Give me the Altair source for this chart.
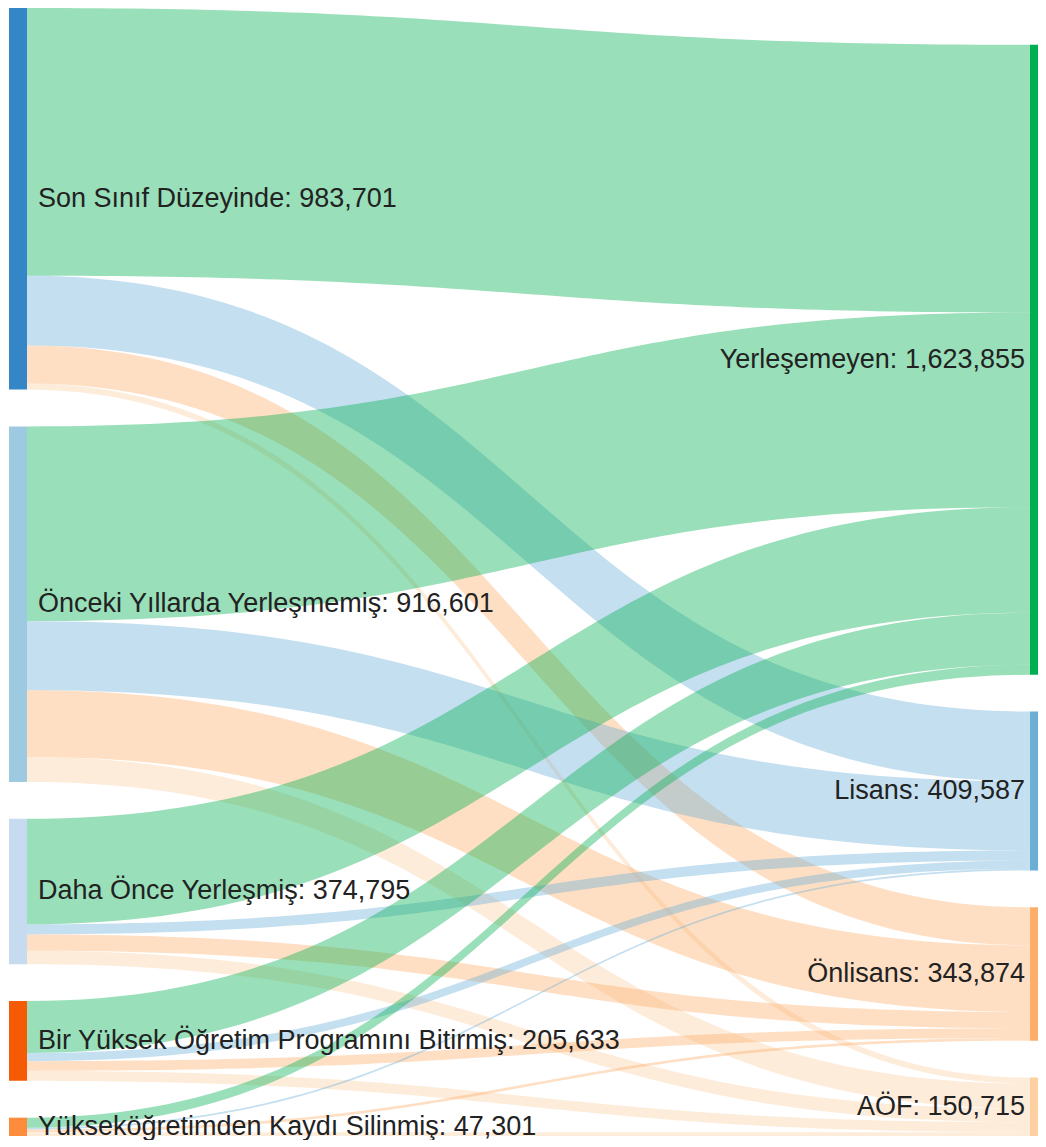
import altair as alt
import pandas as pd
import numpy as np

# ---------------- data ----------------
sources = [
    "Son Sınıf Düzeyinde",
    "Önceki Yıllarda Yerleşmemiş",
    "Daha Önce Yerleşmiş",
    "Bir Yüksek Öğretim Programını Bitirmiş",
    "Yükseköğretimden Kaydı Silinmiş",
]
source_totals = [983701, 916601, 374795, 205633, 47301]
targets = ["Yerleşemeyen", "Lisans", "Önlisans", "AÖF"]
target_totals = [1623855, 409587, 343874, 150715]

# flows from each source (same order as sources) to each target
to_yerlesemeyen = [690000, 502000, 272000, 134000, 25855]
to_lisans = [180000, 178000, 26000, 21000, 4587]
to_onlisans = [98000, 172000, 42000, 25000, 6874]
to_aof = [15701, 64601, 34795, 25633, 9985]

source_colors = ["#3486c6", "#9ecae1", "#c6dbef", "#f55a05", "#fd8d3c"]
target_colors = ["#00b050", "#6baed6", "#fdae6b", "#fdd0a2"]

# ---------------- layout ----------------
W, H = 1030, 1128
GAP = 95000
LX0, LX1 = 1, 19        # left node column
RX0, RX1 = 1022, 1030   # right node column
flows = [to_yerlesemeyen, to_lisans, to_onlisans, to_aof]  # [target][source]

htot = sum(source_totals) + GAP * (len(sources) - 1)
src_top = []
acc = 0
for v in source_totals:
    src_top.append(acc)
    acc += v + GAP
tgt_top = []
acc = htot - (sum(target_totals) + GAP * (len(targets) - 1))
for v in target_totals:
    tgt_top.append(acc)
    acc += v + GAP

rows = []
ts = np.linspace(0, 1, 80)
sx = 1.5 * ts * (1 - ts) + ts ** 3
sy = 3 * ts ** 2 - 2 * ts ** 3
src_off = list(src_top)
tgt_off = list(tgt_top)
for i in range(len(sources)):
    for j in range(len(targets)):
        v = flows[j][i]
        s0 = src_off[i]
        t0 = tgt_off[j]
        src_off[i] += v
        tgt_off[j] += v
        for a, b in zip(sx, sy):
            rows.append({
                "link": f"{i}-{j}",
                "x": LX1 + (RX0 - LX1) * a,
                "y": s0 + (t0 - s0) * b,
                "y2": s0 + v + (t0 - s0) * b,
                "color": target_colors[j],
            })
links_df = pd.DataFrame(rows)

nodes = []
for name, v, top, c in zip(sources, source_totals, src_top, source_colors):
    nodes.append({"x": LX0, "x2": LX1, "y": top, "y2": top + v, "color": c,
                  "label": f"{name}: {v:,}", "mid": top + v / 2, "side": "L"})
for name, v, top, c in zip(targets, target_totals, tgt_top, target_colors):
    nodes.append({"x": RX0, "x2": RX1, "y": top, "y2": top + v, "color": c,
                  "label": f"{name}: {v:,}", "mid": top + v / 2, "side": "R"})
nodes_df = pd.DataFrame(nodes)

xs = alt.Scale(domain=[0, W], nice=False, zero=False)
ys = alt.Scale(domain=[0, htot], reverse=True, nice=False, zero=False)

links = alt.Chart(links_df).mark_area(opacity=0.4, interpolate="linear").encode(
    x=alt.X("x:Q", scale=xs, axis=None),
    y=alt.Y("y:Q", scale=ys, axis=None, stack=False),
    y2="y2:Q",
    color=alt.Color("color:N", scale=None),
    detail="link:N",
)

rects = alt.Chart(nodes_df).mark_rect().encode(
    x=alt.X("x:Q", scale=xs, axis=None),
    x2="x2:Q",
    y=alt.Y("y:Q", scale=ys, axis=None),
    y2="y2:Q",
    color=alt.Color("color:N", scale=None),
)

left_labels = alt.Chart(nodes_df).transform_filter(alt.datum.side == "L").mark_text(
    align="left", baseline="middle", font="Liberation Sans", fontSize=27, color="#222222", dx=11
).encode(
    x=alt.X("x2:Q", scale=xs, axis=None),
    y=alt.Y("mid:Q", scale=ys, axis=None),
    text="label:N",
)

right_labels = alt.Chart(nodes_df).transform_filter(alt.datum.side == "R").mark_text(
    align="right", baseline="middle", font="Liberation Sans", fontSize=27, color="#222222", dx=-5
).encode(
    x=alt.X("x:Q", scale=xs, axis=None),
    y=alt.Y("mid:Q", scale=ys, axis=None),
    text="label:N",
)

chart = alt.layer(links, rects, left_labels, right_labels).properties(
    width=W, height=H, padding=0
).configure_view(stroke=None)

chart.save("out.html", embed_options={"renderer": "svg", "actions": False})
